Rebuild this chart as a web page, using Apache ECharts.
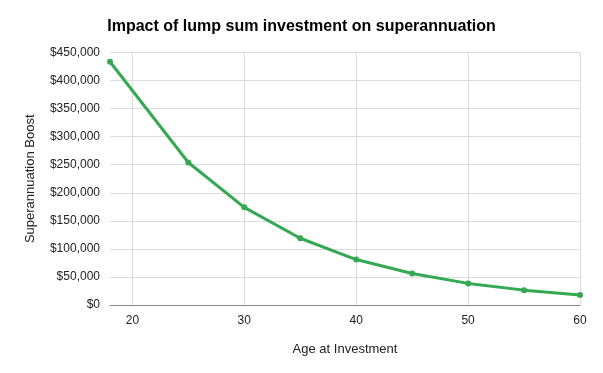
<!DOCTYPE html>
<html><head><meta charset="utf-8">
<script src="https://cdn.jsdelivr.net/npm/echarts@6/dist/echarts.min.js"></script>
<style>html,body{margin:0;padding:0;background:#fff}#c{width:603px;height:373px}</style>
</head><body><div id="c"></div>
<script>
const ages = [18, 25, 30, 35, 40, 45, 50, 55, 60];
const boost = [433500, 254000, 174000, 119000, 81000, 56000, 38500, 26500, 18000];
const xTicks = [20, 30, 40, 50, 60];
const chart = echarts.init(document.getElementById('c'));
chart.setOption({
  animation: false,
  title: {text: 'Impact of lump sum investment on superannuation', left: 'center', top: 14,
    textStyle: {fontFamily: 'Liberation Sans, Arial', fontSize: 16, fontWeight: 'bold', color: '#000'}},
  grid: {left: 110, right: 23, top: 52.5, bottom: 68},
  xAxis: {type: 'value', min: 18, max: 60, interval: 2,
    name: 'Age at Investment', nameLocation: 'middle', nameGap: 38,
    nameTextStyle: {fontFamily: 'Liberation Sans, Arial', fontSize: 13, color: '#222'},
    axisLine: {lineStyle: {color: '#888'}}, axisTick: {show: false},
    axisLabel: {fontFamily: 'Liberation Sans, Arial', fontSize: 12, color: '#222', margin: 10,
      showMinLabel: true, showMaxLabel: true,
      formatter: v => xTicks.includes(v) ? String(v) : ''},
    splitLine: {show: false}},
  yAxis: {type: 'value', min: 0, max: 450000, interval: 50000,
    name: 'Superannuation Boost', nameLocation: 'middle', nameGap: 73, nameRotate: 90,
    nameTextStyle: {fontFamily: 'Liberation Sans, Arial', fontSize: 13, color: '#222'},
    axisLine: {show: false}, axisTick: {show: false},
    axisLabel: {fontFamily: 'Liberation Sans, Arial', fontSize: 12, color: '#222', margin: 10,
      formatter: v => '$' + v.toLocaleString('en-US')},
    splitLine: {lineStyle: {color: '#dcdcdc'}}},
  series: [
    {type: 'line', data: [], z: 0, silent: true,
      markLine: {silent: true, z: 0, symbol: 'none', label: {show: false}, animation: false,
        lineStyle: {color: '#dcdcdc', type: 'solid', width: 1},
        data: xTicks.map(v => ({xAxis: v}))}},
    {type: 'line', data: ages.map((a, i) => [a, boost[i]]), z: 10,
      symbol: 'circle', symbolSize: 6, clip: false,
      lineStyle: {color: '#34a853', width: 3}, itemStyle: {color: '#34a853'}}]
});
</script></body></html>
